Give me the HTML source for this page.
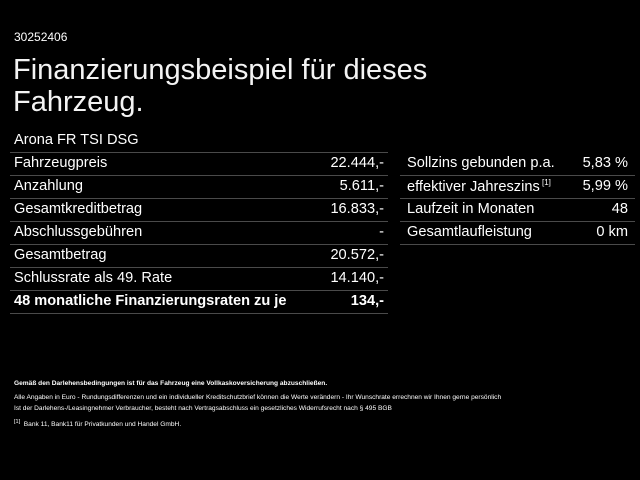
<!DOCTYPE html>
<html><head><meta charset="utf-8"><style>
body{margin:0;width:640px;height:480px;background:#000;color:#fff;font-family:"Liberation Sans",Arial,sans-serif;position:relative;overflow:hidden}
.a{position:absolute;white-space:nowrap}
.ln{position:absolute;height:1px;background:#4a4a4a}
.r{position:absolute;white-space:nowrap;text-align:right}
.t{font-size:14.6px}
.f{font-size:6.6px}
</style></head><body>
<div class="a" style="left:14px;top:30px;font-size:12px">30252406</div>
<div class="a" style="left:13px;top:54px;font-size:29px;line-height:32px;color:#f4f4f4">Finanzierungsbeispiel für dieses<br>Fahrzeug.</div>
<div class="a t" style="left:14px;top:132px">Arona FR TSI DSG</div>

<div class="ln" style="left:10px;width:378px;top:152px"></div>
<div class="ln" style="left:10px;width:378px;top:175px"></div>
<div class="ln" style="left:10px;width:378px;top:198px"></div>
<div class="ln" style="left:10px;width:378px;top:221px"></div>
<div class="ln" style="left:10px;width:378px;top:244px"></div>
<div class="ln" style="left:10px;width:378px;top:267px"></div>
<div class="ln" style="left:10px;width:378px;top:290px"></div>
<div class="ln" style="left:10px;width:378px;top:313px"></div>

<div class="a t" style="left:14px;top:155px">Fahrzeugpreis</div><div class="r t" style="right:256px;top:155px">22.444,-</div>
<div class="a t" style="left:14px;top:178px">Anzahlung</div><div class="r t" style="right:256px;top:178px">5.611,-</div>
<div class="a t" style="left:14px;top:201px">Gesamtkreditbetrag</div><div class="r t" style="right:256px;top:201px">16.833,-</div>
<div class="a t" style="left:14px;top:224px">Abschlussgebühren</div><div class="r t" style="right:256px;top:224px">-</div>
<div class="a t" style="left:14px;top:247px">Gesamtbetrag</div><div class="r t" style="right:256px;top:247px">20.572,-</div>
<div class="a t" style="left:14px;top:270px">Schlussrate als 49. Rate</div><div class="r t" style="right:256px;top:270px">14.140,-</div>
<div class="a t" style="left:14px;top:293px;font-weight:bold">48 monatliche Finanzierungsraten zu je</div><div class="r t" style="right:256px;top:293px;font-weight:bold">134,-</div>

<div class="ln" style="left:400px;width:235px;top:175px"></div>
<div class="ln" style="left:400px;width:235px;top:198px"></div>
<div class="ln" style="left:400px;width:235px;top:221px"></div>
<div class="ln" style="left:400px;width:235px;top:244px"></div>
<div class="a t" style="left:407px;top:155px">Sollzins gebunden p.a.</div><div class="r t" style="right:12px;top:155px">5,83 %</div>
<div class="a t" style="left:407px;top:178px">effektiver Jahreszins<sup style="font-size:8px;vertical-align:6px"> [1]</sup></div><div class="r t" style="right:12px;top:178px">5,99 %</div>
<div class="a t" style="left:407px;top:201px">Laufzeit in Monaten</div><div class="r t" style="right:12px;top:201px">48</div>
<div class="a t" style="left:407px;top:224px">Gesamtlaufleistung</div><div class="r t" style="right:12px;top:224px">0 km</div>

<div class="a f" style="left:14px;top:380px;font-weight:bold">Gemäß den Darlehensbedingungen ist für das Fahrzeug eine Vollkaskoversicherung abzuschließen.</div>
<div class="a f" style="left:14px;top:394px">Alle Angaben in Euro - Rundungsdifferenzen und ein individueller Kreditschutzbrief können die Werte verändern - Ihr Wunschrate errechnen wir Ihnen gerne persönlich</div>
<div class="a f" style="left:14px;top:405px">Ist der Darlehens-/Leasingnehmer Verbraucher, besteht nach Vertragsabschluss ein gesetzliches Widerrufsrecht nach § 495 BGB</div>
<div class="a f" style="left:14px;top:419px"><sup style="font-size:5.5px">[1]</sup>&nbsp; Bank 11, Bank11 für Privatkunden und Handel GmbH.</div>
</body></html>
